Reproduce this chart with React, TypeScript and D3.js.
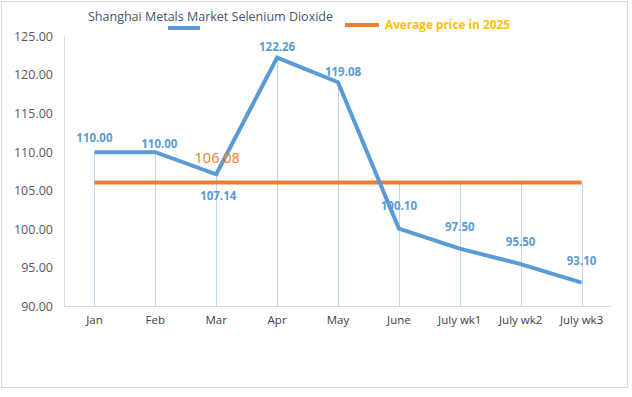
import React from "react";
import { useRef, useEffect } from "react";
import * as d3 from "d3";

const categories = ["Jan", "Feb", "Mar", "Apr", "May", "June", "July wk1", "July wk2", "July wk3"];
const prices = [110.0, 110.0, 107.14, 122.26, 119.08, 100.1, 97.5, 95.5, 93.1];
const average2025 = 106.08;
const yTicks = [90, 95, 100, 105, 110, 115, 120, 125];
const seriesName = "Shanghai Metals Market Selenium Dioxide";
const averageName = "Average price in 2025";

// label nudges (dx, dy) relative to each point
const labelNudge = [
  [0, -14], [4, -8], [2, 22], [0, -11], [5, -10], [0, -23], [0, -22], [0, -22], [0, -22],
];

export default function App() {
  const chartRef = useRef(null);

  useEffect(() => {
    const width = 632;
    const height = 397;
    const font = "'Open Sans', 'Noto Sans', sans-serif";

    d3.select(chartRef.current).selectAll("*").remove();

    const svg = d3
      .select(chartRef.current)
      .append("svg")
      .attr("width", width)
      .attr("height", height)
      .style("position", "absolute")
      .style("left", 0)
      .style("top", 0)
      .style("font-family", font);

    svg.append("rect").attr("width", width).attr("height", height).attr("fill", "#fff");
    svg
      .append("rect")
      .attr("x", 1.5)
      .attr("y", 1.5)
      .attr("width", 626)
      .attr("height", 386)
      .attr("fill", "none")
      .attr("stroke", "#d9d9d9");

    const x = d3.scaleBand().domain(categories).range([64, 612]);
    const y = d3.scaleLinear().domain([90, 125]).range([306.5, 36.5]);
    const cx = (d) => x(d) + x.bandwidth() / 2;

    // axes
    svg
      .append("line")
      .attr("x1", 64.5).attr("x2", 64.5)
      .attr("y1", y(125)).attr("y2", y(90))
      .attr("stroke", "#d9d9d9");
    svg
      .append("line")
      .attr("x1", 64).attr("x2", 612)
      .attr("y1", y(90)).attr("y2", y(90))
      .attr("stroke", "#d9d9d9");

    svg
      .append("g")
      .selectAll("text")
      .data(yTicks)
      .enter()
      .append("text")
      .attr("x", 53)
      .attr("y", (d) => y(d))
      .attr("dy", "0.35em")
      .attr("text-anchor", "end")
      .attr("font-size", 12.5)
      .attr("fill", "#595959")
      .text((d) => d.toFixed(2));

    svg
      .append("g")
      .selectAll("text")
      .data(categories)
      .enter()
      .append("text")
      .attr("x", (d) => cx(d))
      .attr("y", 324)
      .attr("text-anchor", "middle")
      .attr("font-size", 11.5)
      .attr("fill", "#404040")
      .text((d) => d);

    // drop lines
    svg
      .append("g")
      .selectAll("line")
      .data(categories)
      .enter()
      .append("line")
      .attr("x1", (d) => Math.round(cx(d)) + 0.5)
      .attr("x2", (d) => Math.round(cx(d)) + 0.5)
      .attr("y1", (d, i) => Math.min(y(prices[i]), y(average2025)))
      .attr("y2", y(90))
      .attr("stroke", "#bdd7ee")
      .attr("stroke-width", 1);

    // average line
    svg
      .append("line")
      .attr("x1", cx(categories[0]))
      .attr("x2", cx(categories[categories.length - 1]))
      .attr("y1", y(average2025))
      .attr("y2", y(average2025))
      .attr("stroke", "#ed7d31")
      .attr("stroke-width", 4);

    // price line
    const line = d3
      .line()
      .x((d, i) => cx(categories[i]))
      .y((d) => y(d));
    svg
      .append("path")
      .datum(prices)
      .attr("d", line)
      .attr("fill", "none")
      .attr("stroke", "#5b9bd5")
      .attr("stroke-width", 4)
      .attr("stroke-linejoin", "miter");

    // data labels
    svg
      .append("g")
      .selectAll("text")
      .data(prices)
      .enter()
      .append("text")
      .attr("x", (d, i) => cx(categories[i]) + labelNudge[i][0])
      .attr("y", (d, i) => y(d) + labelNudge[i][1])
      .attr("dy", "0.35em")
      .attr("text-anchor", "middle")
      .attr("font-size", 11.5)
      .attr("font-weight", "bold")
      .attr("fill", "#5b9bd5")
      .text((d) => d.toFixed(2));

    svg
      .append("text")
      .attr("x", cx(categories[2]) + 1)
      .attr("y", y(average2025) - 25)
      .attr("dy", "0.35em")
      .attr("text-anchor", "middle")
      .attr("font-size", 14.5)
      .attr("fill", "#ed7d31")
      .text(average2025.toFixed(2));

    // legend
    svg
      .append("text")
      .attr("x", 88)
      .attr("y", 21)
      .attr("font-size", 12.5)
      .attr("fill", "#44546a")
      .text(seriesName);
    svg
      .append("line")
      .attr("x1", 168).attr("x2", 200)
      .attr("y1", 28).attr("y2", 28)
      .attr("stroke", "#5b9bd5")
      .attr("stroke-width", 4);
    svg
      .append("line")
      .attr("x1", 345).attr("x2", 379)
      .attr("y1", 25).attr("y2", 25)
      .attr("stroke", "#ed7d31")
      .attr("stroke-width", 4);
    svg
      .append("text")
      .attr("x", 385)
      .attr("y", 29)
      .attr("font-size", 11.8)
      .attr("font-weight", "bold")
      .attr("fill", "#ffc000")
      .text(averageName);
  }, []);

  return <div ref={chartRef} />;
}
